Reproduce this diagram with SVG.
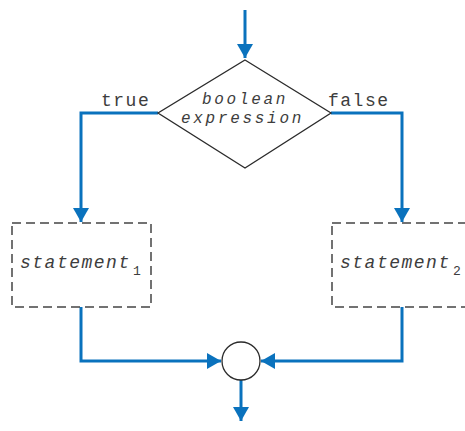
<svg xmlns="http://www.w3.org/2000/svg" width="465" height="431" viewBox="0 0 465 431">
  <style>
    .flow { fill: none; stroke: #0a72bd; stroke-width: 3; }
    .shape { fill: #ffffff; stroke: #2b2b2b; stroke-width: 1.3; }
    .dashed { fill: #ffffff; stroke: #444444; stroke-width: 1.5; stroke-dasharray: 9 5; }
    .code { font-family: "Liberation Mono", "DejaVu Sans Mono", monospace; font-size: 18px; letter-spacing: 1.5px; fill: #3d3d3d; }
    .it { font-style: italic; }
    .cond { font-size: 16px; letter-spacing: 2.7px; }
    .sub { font-family: "Liberation Mono", "DejaVu Sans Mono", monospace; font-size: 13px; fill: #3d3d3d; }
  </style>
  <defs>
    <marker id="arrow" markerUnits="userSpaceOnUse" markerWidth="16" markerHeight="16" viewBox="0 0 16 16" refX="14" refY="8" orient="auto">
      <path d="M0,0 L14,8 L0,16 Z" fill="#0a72bd"/>
    </marker>
  </defs>
  <rect width="465" height="431" fill="#ffffff"/>

  <!-- connectors -->
  <g id="connectors">
    <path class="flow" d="M245,10 V58" marker-end="url(#arrow)"/>
    <path class="flow" d="M158,113 H81 V222" marker-end="url(#arrow)"/>
    <path class="flow" d="M331,113 H402 V222" marker-end="url(#arrow)"/>
    <path class="flow" d="M81,307 V361 H221" marker-end="url(#arrow)"/>
    <path class="flow" d="M402,307 V361 H261" marker-end="url(#arrow)"/>
    <path class="flow" d="M241,380 V421" marker-end="url(#arrow)"/>
    <text class="code" x="101" y="106">true</text>
    <text class="code" x="328" y="106">false</text>
  </g>

  <!-- decision -->
  <g id="decision">
    <polygon class="shape" points="245,60 331,113 245,168 158,113"/>
    <text class="code it cond" x="202" y="104">boolean</text>
    <text class="code it cond" x="181" y="122.5">expression</text>
  </g>

  <!-- true branch -->
  <g id="statement1">
    <rect class="dashed" x="12" y="223" width="139" height="84"/>
    <text class="code it" x="20" y="268">statement</text>
    <text class="sub" x="133" y="275">1</text>
  </g>

  <!-- false branch -->
  <g id="statement2">
    <rect class="dashed" x="332" y="223" width="139" height="84"/>
    <text class="code it" x="340" y="268">statement</text>
    <text class="sub" x="453" y="275">2</text>
  </g>

  <!-- join point -->
  <g id="join">
    <circle class="shape" cx="241" cy="361" r="19"/>
  </g>
</svg>
